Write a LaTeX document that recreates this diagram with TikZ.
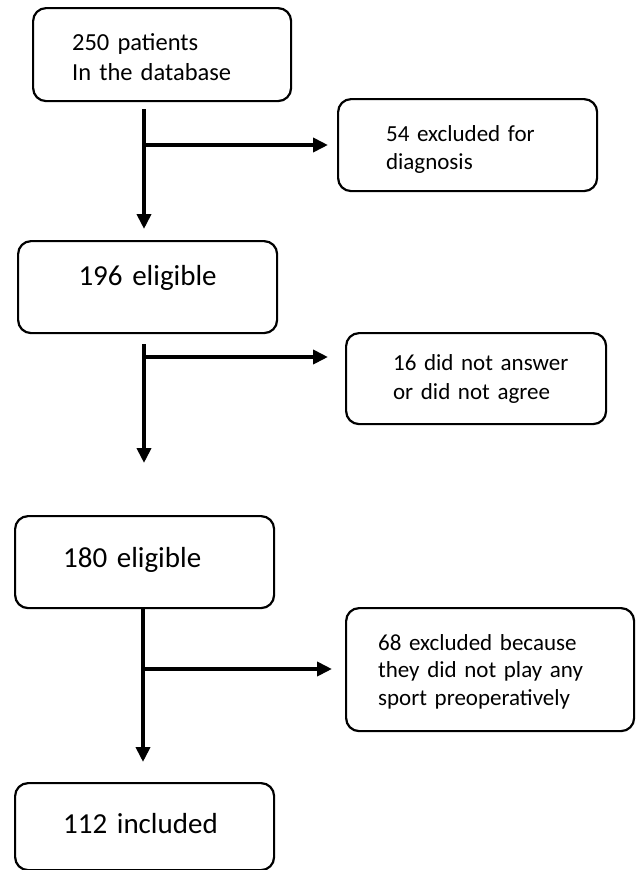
\documentclass[tikz,border=0pt]{standalone}
\usepackage{fontspec}
\setmainfont{Carlito}
\usetikzlibrary{arrows.meta,positioning,calc}

\begin{document}
\begin{tikzpicture}[x=1pt, y=-1pt,
    pbox/.style={rectangle, draw, line width=2.2pt, rounded corners=13pt, anchor=north west, align=left, inner ysep=0pt, font=\fontsize{29}{34}\selectfont},
    xbox/.style={pbox, font=\fontsize{23}{28.5}\selectfont},
    flow/.style={-{Triangle[length=15pt,width=14pt]}, line width=4.5pt}]

    \useasboundingbox (0,0) rectangle (636,870);

    % main column
    \node[pbox, font=\fontsize{24.5}{30}\selectfont, inner xsep=39pt, text width=180pt, minimum height=93pt] (p250) at (32,7) {\rule{0pt}{21pt}250 patients\\In the database};
    \node[pbox, align=center, inner xsep=10pt, text width=239pt, minimum height=92pt, text height=19pt, text depth=23pt] (e196) at (17,240) {196 eligible};
    \node[pbox, inner xsep=48pt, text width=163pt, minimum height=92pt, text height=19pt, text depth=9pt] (e180) at (14,515) {180 eligible};
    \node[pbox, inner xsep=48pt, text width=163pt, minimum height=87pt, text height=19pt, text depth=6pt] (i112) at (14,782) {112 included};

    % excluded boxes
    \node[xbox, inner xsep=48pt, text width=163pt, minimum height=92pt] (x54) at (337,98) {\rule{0pt}{25pt}54 excluded for\\diagnosis};
    \node[xbox, font=\fontsize{23}{29}\selectfont, inner xsep=47pt, text width=166pt, minimum height=91pt] (x16) at (345,332) {\mbox{16 did not answer}\\or did not agree};
    \node[xbox, font=\fontsize{23}{27.5}\selectfont, inner xsep=32pt, text width=224pt, minimum height=123pt] (x68) at (345,607) {\rule{0pt}{20pt}68 excluded because\\they did not play any\\sport preoperatively};

    \coordinate (j1) at (144,145);
    \coordinate (j2) at (144,357);
    \coordinate (j3) at (143,669);

    \draw[flow, shorten <=7pt, shorten >=11pt] (p250.south -| j1) -- (e196.north -| j1);
    \draw[flow, shorten >=9pt] (j1) -- (x54.west |- j1);
    \draw[flow, shorten <=10pt, shorten >=52pt] (e196.south -| j2) -- (e180.north -| j2);
    \draw[flow, shorten >=17pt] (j2) -- (x16.west |- j2);
    \draw[flow, shorten >=20pt] (e180.south -| j3) -- (i112.north -| j3);
    \draw[flow, shorten >=13pt] (j3) -- (x68.west |- j3);

\end{tikzpicture}
\end{document}
